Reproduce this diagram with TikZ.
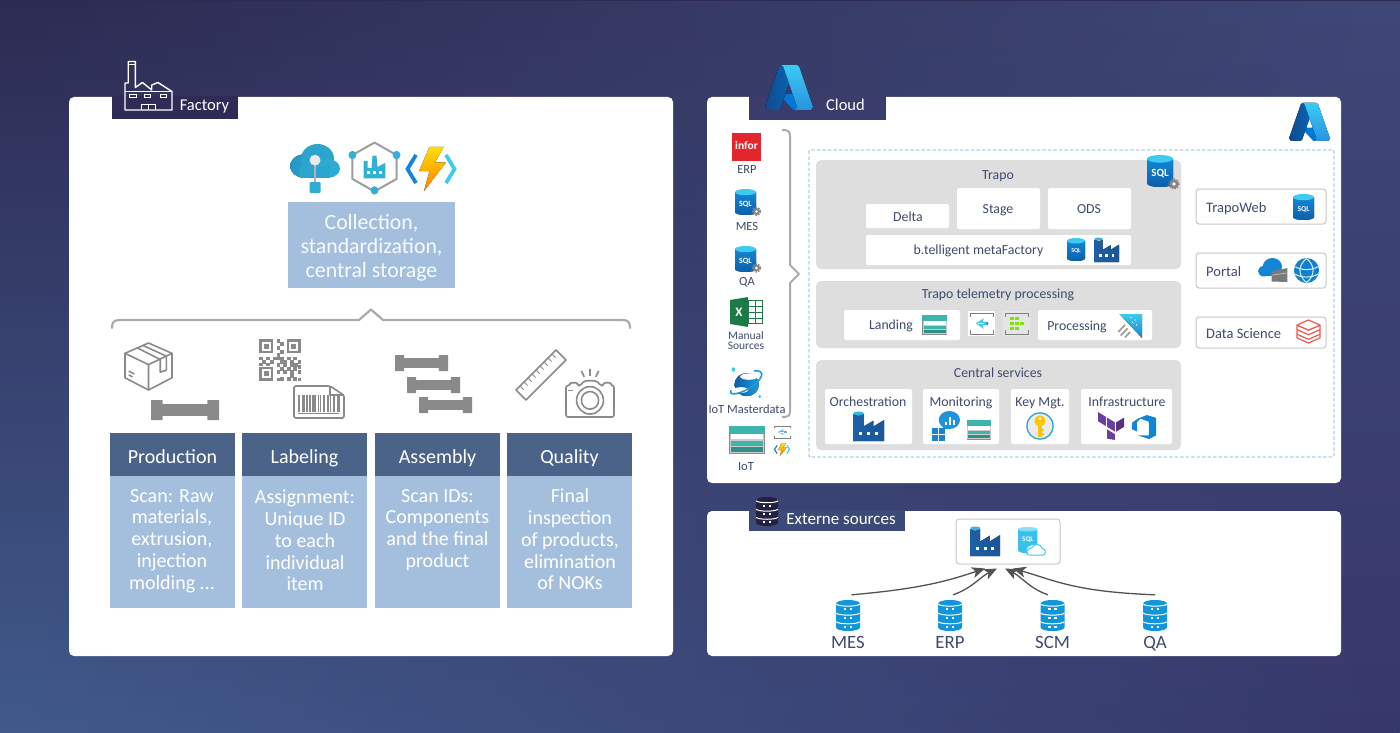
\documentclass[tikz,border=0pt]{standalone}
\usepackage{fontspec}
\setmainfont{Carlito}
\usetikzlibrary{fadings,arrows.meta}
\definecolor{bgA}{HTML}{2D2B53}
\definecolor{bgB}{HTML}{415B8C}
\definecolor{bgC}{HTML}{3F4877}
\definecolor{bgD}{HTML}{37386A}
\definecolor{tabA}{HTML}{2E2C57}
\definecolor{tabB}{HTML}{3A3D6C}
\definecolor{tabC}{HTML}{3C4A78}
\definecolor{lblue}{HTML}{A3BFDD}
\definecolor{hblue}{HTML}{4B6289}
\definecolor{ink}{HTML}{3E4A6E}
\definecolor{panel}{HTML}{DEDEDE}
\definecolor{gico}{HTML}{8A8A8A}
\definecolor{brk}{HTML}{ABABAB}
\definecolor{dashc}{HTML}{6FA8CC}
\definecolor{sqlA}{HTML}{1385D6}
\definecolor{sqlB}{HTML}{0B5EA8}
\definecolor{sqlC}{HTML}{3ECBF0}
\definecolor{adf}{HTML}{1D5FA8}
\definecolor{dbc}{HTML}{1296DB}
\definecolor{teal}{HTML}{3DB5AC}
\definecolor{tealD}{HTML}{2F8F86}
\definecolor{iot}{HTML}{2BA5CE}
\definecolor{redi}{HTML}{E1272D}
\definecolor{xl}{HTML}{1B7A45}
\definecolor{azA}{HTML}{114A8B}
\definecolor{azB}{HTML}{0669BC}
\definecolor{azC}{HTML}{0078D4}
\definecolor{azD}{HTML}{3CCBF4}
\definecolor{azE}{HTML}{2892DF}
\tikzset{
  ibox/.style n args={4}{shift={(#1,#2)},x=#3pt,y=-#4pt},
  card/.style={fill=white,rounded corners=5pt,draw=none},
  wbox/.style={fill=white,rounded corners=2pt},
  gpanel/.style={fill=panel,rounded corners=5pt},
  rbox/.style={fill=white,draw=black!22,line width=1pt,rounded corners=3pt},
  lab/.style={text=ink,font=\fontsize{13.8}{15}\selectfont,inner sep=0pt,text height=9pt,text depth=3pt,yshift=-1.3pt},
  sm/.style={text=ink,font=\fontsize{12.5}{13}\selectfont,inner sep=0pt},
  hd/.style={text=white,font=\fontsize{20}{22}\selectfont,inner sep=0pt,anchor=base},
  bd/.style={text=white,font=\fontsize{20}{21.8}\selectfont,align=center,inner sep=0pt},
  gl/.style={draw=gico,line width=1.6pt,line join=round,fill=none},
  bline/.style={draw=brk,line width=2.2pt,line join=round,line cap=round},
  feed/.style={draw=black!68,line width=1.3pt,-{Stealth[length=13pt,width=11pt,inset=3.5pt]}}
}
\newcommand\icAzure[4]{\begin{scope}[ibox={#1}{#2}{#3}{#4}]
 \fill[azC] (.763,.648)--(.294,.648)--(.58,.985)--(.61,1)--(.88,1)--cycle;
 \fill[left color=azA,right color=azB] (.333,0)--(.63,0)--(.32,.965)--(.28,1)--(.05,1)--(0,.93)--(.29,.03)--cycle;
 \fill[top color=azD,bottom color=azE] (.337,0)--(.667,0)--(.71,.035)--(1,.934)--(.955,1)--(.62,1)--(.668,.93)--(.38,.035)--cycle;
\end{scope}}
\newcommand\icSql[5]{\begin{scope}[ibox={#1}{#2}{#3}{#4}]
 \fill[top color=sqlA,bottom color=sqlB] (0,.12)--(0,.88) .. controls (0,1.04) and (1,1.04) .. (1,.88)--(1,.12)--cycle;
 \fill[sqlC] (.5,.12) ellipse [x radius=.5,y radius=.12];
 \node[inner sep=0pt,text=white,font=\bfseries\fontsize{#5}{#5}\selectfont] (sql#1x#2) at (.5,.58) {SQL};
\end{scope}}
\newcommand\icGear[3]{\fill[black!48] (#1,#2) circle (#3);
 \draw[black!48,line width=1.5pt,dash pattern=on 1.4pt off 1.4pt] (#1,#2) circle (#3+.4);
 \fill[white] (#1,#2) circle (#3*.4);}
\newcommand\icAdf[4]{\begin{scope}[ibox={#1}{#2}{#3}{#4}]
 \fill[sqlC!70!sqlA] (.02,.1)--(.02,.02) .. controls (.1,-.03) and (.26,-.03) .. (.34,.02)--(.34,.1)--cycle;
 \fill[left color=adf,right color=adf!90!black] (0,1)--(0,.08) .. controls (.1,.14) and (.26,.14) .. (.34,.08)--(.34,.5)--(.66,.3)--(.66,.5)--(1,.28)--(1,1)--cycle;
 \foreach \px in {.25,.5,.75}{\fill[white] (\px-.05,.68) rectangle (\px+.05,.8);}
\end{scope}}
\newcommand\icStore[4]{\begin{scope}[ibox={#1}{#2}{#3}{#4}]
 \fill[black!45] (0,0) rectangle (1,1);
 \fill[black!20] (.02,.3) rectangle (.98,.96);
 \fill[teal] (0,0) rectangle (1,.28);
 \fill[white] (.06,.3) rectangle (.94,.48);
 \fill[teal] (.06,.54) rectangle (.94,.7);
 \fill[tealD] (.06,.76) rectangle (.94,.92);
\end{scope}}
\newcommand\icEvent[4]{\begin{scope}[ibox={#1}{#2}{#3}{#4}]
 \draw[black!50,line width=1pt] (0,.2)--(0,0)--(1,0)--(1,.2) (0,.8)--(0,1)--(1,1)--(1,.8);
 \fill[sqlC] (.25,.5)--(.6,.25)--(.55,.42)--(.78,.42)--(.78,.58)--(.55,.58)--(.6,.75)--cycle;
 \fill[white] (.35,.47) rectangle (.6,.53);
 \fill[violet!70] (.75,.5) circle (.06);
\end{scope}}
\newcommand\icStream[4]{\begin{scope}[ibox={#1}{#2}{#3}{#4}]
 \draw[black!50,line width=1pt] (0,.2)--(0,0)--(1,0)--(1,.2) (0,.8)--(0,1)--(1,1)--(1,.8);
 \foreach \px/\py in {.3/.28,.3/.5,.3/.72,.52/.28,.52/.5,.52/.72,.74/.5}{\fill[green!45!yellow!90!black] (\px-.08,\py-.07) rectangle (\px+.08,\py+.07);}
\end{scope}}
\newcommand\icFunc[4]{\begin{scope}[ibox={#1}{#2}{#3}{#4}]
 \draw[sqlA,line width=#3*.075pt,line join=miter] (.2,.18)--(.03,.5)--(.2,.82);
 \draw[sqlC,line width=#3*.075pt,line join=miter] (.8,.18)--(.97,.5)--(.8,.82);
 \fill[top color=yellow!75!orange,bottom color=orange] (.47,0)--(.75,0)--(.58,.35)--(.8,.35)--(.36,1)--(.47,.55)--(.26,.55)--cycle;
\end{scope}}
\newcommand\pipeh[4]{\begin{scope}[ibox={#1}{#2}{#3}{#4}]
 \fill[gico] (.14,.18) rectangle (.86,.82);
 \fill[gico,rounded corners=.5pt] (0,0) rectangle (.17,1);
 \fill[gico,rounded corners=.5pt] (.83,0) rectangle (1,1);
\end{scope}}
\newcommand\icDb[5]{\begin{scope}[ibox={#1}{#2}{#3}{#4}]
 \fill[#5] (0,.12)--(0,.88) .. controls (0,1.04) and (1,1.04) .. (1,.88)--(1,.12) .. controls (1,-.04) and (0,-.04) .. (0,.12)--cycle;
 \foreach \py in {.13,.42,.7}{\draw[white,line width=1pt] (0,\py) .. controls (.1,\py+.09) and (.9,\py+.09) .. (1,\py);}
 \foreach \py in {.3,.58,.87}{\foreach \px in {.38,.62}{\fill[white] (\px-.05,\py-.035) rectangle (\px+.05,\py+.035);}}
\end{scope}}
\begin{document}
\begin{tikzpicture}[x=1pt,y=-1pt]
\useasboundingbox (0,0) rectangle (1400,733);
% background
\shade[top color=bgA,bottom color=bgB] (0,0) rectangle (1400,733);
\shade[top color=bgC,bottom color=bgD,path fading=west] (0,0) rectangle (1400,733);
% panels
\fill[card] (69,97) rectangle (673,656);
\fill[card] (707,97) rectangle (1341,483);
\fill[card] (707,511) rectangle (1341,656);
\fill[tabA] (112,96) rectangle (238,119);
\fill[tabB] (749,96) rectangle (886,120);
\fill[tabC] (749,510) rectangle (905,531);
% factory tab
\node[inner sep=0pt,text=white,font=\fontsize{16.5}{17}\selectfont] (tabF) at (204.5,107) {Factory};
\begin{scope}[ibox={125}{60}{47}{50}]
 \draw[white,line width=1.4pt,line join=round] (0,1)--(0,.46)--(.07,.46)--(.07,.03)--(.22,.03)--(.22,.55)--(.37,.45)--(.57,.6)--(.57,.5)--(.7,.45)--(1,.63)--(1,1)--cycle;
 \draw[white,line width=1pt] (.07,.1)--(.22,.1);
 \draw[white,line width=1pt] (0,.63)--(1,.63);
 \foreach \px in {.17,.48,.82}{\draw[white,line width=1pt] (\px-.07,.7) rectangle (\px+.07,.76);}
 \draw[white,line width=1pt] (.36,1)--(.36,.9)--(.64,.9)--(.64,1) (.5,.9)--(.5,1);
\end{scope}
% top icons factory
\begin{scope}[ibox={290}{144}{50}{49}]
 \fill[left color=iot!80!sqlB,right color=iot] (.3,.45) ellipse [x radius=.3,y radius=.24];
 \fill[iot] (.55,.3) ellipse [x radius=.33,y radius=.3];
 \fill[iot!85!sqlC] (.76,.5) ellipse [x radius=.24,y radius=.19];
 \fill[iot] (.2,.45) rectangle (.8,.69);
 \draw[black!30,line width=1.2pt] (.5,.35)--(.5,.8);
 \fill[black!8] (.5,.33) circle [x radius=.11,y radius=.11];
 \fill[iot!80!sqlC,rounded corners=1pt] (.39,.78) rectangle (.61,1);
\end{scope}
\begin{scope}[ibox={350}{141}{49}{52}]
 \draw[black!38,line width=2pt,line join=round] (.5,.03)--(.95,.27)--(.95,.73)--(.5,.97)--(.05,.73)--(.05,.27)--cycle;
 \fill[iot!70!sqlC] (.28,.72)--(.28,.38)--(.36,.38)--(.36,.52)--(.44,.52)--(.46,.28)--(.54,.28)--(.56,.5)--(.72,.42)--(.72,.72)--cycle;
 \foreach \px in {.38,.5,.62}{\fill[white] (\px-.03,.58) rectangle (\px+.03,.64);}
 \foreach \px/\py in {.05/.27,.95/.27,.5/.95}{\fill[iot!70!sqlC] (\px,\py) circle [x radius=.08,y radius=.08];}
\end{scope}
\icFunc{406}{147}{50}{44}
\node[fill=lblue,minimum width=167pt,minimum height=86pt,inner sep=0pt] (collect) at (371.5,245) {};
\node[text=white!93!lblue,align=center,inner sep=0pt,font=\fontsize{21.8}{24}\selectfont] (collectt) at (371.5,248) {Collection,\\standardization,\\central storage};
% big bracket
\draw[bline] (112,328) .. controls (112,322) and (114,320) .. (120,320) -- (359,320) -- (371,309.5) -- (383,320) -- (622,320) .. controls (628,320) and (630,322) .. (630,328);
% gray icons
\begin{scope}[ibox={125}{343}{47}{47}]
 \draw[gl] (.5,0)--(1,.22)--(1,.74)--(.5,1)--(0,.74)--(0,.22)--cycle;
 \draw[gl] (0,.22)--(.5,.46)--(1,.22) (.5,.46)--(.5,1);
 \draw[gl] (.25,.1)--(.75,.35)--(.75,.62)--(.88,.58)--(.88,.28)--(.38,.05);
 \draw[gl] (.08,.6)--(.2,.66) (.08,.68)--(.16,.72);
\end{scope}
\pipeh{151}{400}{68}{20}
\begin{scope}[ibox={259}{339}{42}{42}]
 \foreach \px/\py in {0/0,.66/0,0/.66}{
  \fill[gico] (\px,\py) rectangle (\px+.34,\py+.34);
  \fill[white] (\px+.06,\py+.06) rectangle (\px+.28,\py+.28);
  \fill[gico] (\px+.11,\py+.11) rectangle (\px+.23,\py+.23);}
 \foreach \px/\py in {.42/0,.5/.08,.42/.16,.5/.26,.42/.34,.42/.42,.5/.42,.58/.5,.66/.42,.74/.5,.82/.42,.92/.5,0/.42,.08/.5,.16/.42,.26/.5,.34/.42,.42/.58,.5/.66,.42/.74,.58/.74,.5/.9,.42/.92,.66/.66,.74/.74,.82/.66,.92/.74,.66/.9,.82/.9,.92/.92,.74/.58,.84/.58,.58/.58,.74/.84,.92/.62,.5/.5,.0/.56,.16/.56}{
  \fill[gico] (\px,\py) rectangle (\px+.09,\py+.09);}
\end{scope}
\begin{scope}[ibox={294}{385}{50}{34}]
 \draw[gl,rounded corners=1.5pt] (0,.03)--(.72,.03)--(1,.3)--(1,.97)--(0,.97)--cycle;
 \draw[gl] (.72,.03)--(.72,.3)--(1,.3);
 \foreach \px/\wd in {.08/.04,.15/.06,.24/.03,.3/.03,.36/.07,.47/.03,.52/.02,.57/.05,.66/.03,.72/.02,.78/.04,.86/.05}{\fill[gico] (\px,.3) rectangle (\px+\wd,.78);}
 \draw[gico,line width=1pt] (.08,.84)--(.9,.84);
\end{scope}
\pipeh{395}{355}{53}{16}
\pipeh{407}{377}{53}{16}
\pipeh{419}{397}{53}{16}
\begin{scope}[ibox={516}{350}{50}{50}]
 \draw[gl] (0,.8)--(.8,0)--(1,.2)--(.2,1)--cycle;
 \foreach \t in {.1,.2,.3,.4,.5,.6,.7,.8,.9}{\draw[gico,line width=1pt] (\t*.8,.8-\t*.8)--(\t*.8+.07,.87-\t*.8);}
\end{scope}
\begin{scope}[ibox={566}{368}{48}{49}]
 \draw[gl,rounded corners=2pt] (0,.36)--(.08,.36)--(.08,.3)--(.24,.3)--(.24,.36)--(.3,.36)--(.38,.26)--(.64,.26)--(.72,.36)--(.78,.36)--(.78,.3)--(.94,.3)--(.94,.36)--(1,.36)--(1,1)--(0,1)--cycle;
 \draw[gl] (.5,.66) circle [x radius=.28,y radius=.28];
 \draw[gl] (.5,.66) circle [x radius=.18,y radius=.18];
 \draw[gl] (.5,.02)--(.5,.16) (.32,.06)--(.38,.18) (.68,.06)--(.62,.18);
 \draw[gl] (.04,.46)--(.14,.46);
\end{scope}
% columns
\foreach \nm/\lft/\ttl in {a/110/Production,b/242/Labeling,c/375/Assembly,d/507/Quality}{
 \fill[hblue] (\lft,433) rectangle (\lft+125,476);
 \fill[lblue] (\lft,476) rectangle (\lft+125,608);
 \node[hd] (h\nm) at (\lft+62.5,463) {\ttl};
}
\node[bd] (ba) at (172,541) {Scan: Raw\\materials,\\extrusion,\\injection\\molding ...};
\node[bd] (bb) at (305,540.5) {Assignment:\\Unique ID\\to each\\individual\\item};
\node[bd] (bc) at (437.5,530) {Scan IDs:\\Components\\and the final\\product};
\node[bd] (bd1) at (570,539.5) {Final\\inspection\\of products,\\elimination\\of NOKs};
% cloud tab
\icAzure{765}{65}{48}{45}
\node[inner sep=0pt,text=white,font=\fontsize{16.5}{18}\selectfont] (tabC1) at (845.5,105) {Cloud};
\icAzure{1289}{103}{41}{38}
% left sources
\fill[redi] (732,133) rectangle (761,161);
\node[inner sep=0pt,text=white,font=\bfseries\fontsize{11.5}{12}\selectfont] (infor) at (746.5,146) {infor};
\node[sm] (erp) at (747,169.5) {ERP};
\icSql{735}{189}{21}{26}{8}\icGear{756.5}{211.5}{3.5}
\node[sm] (mes) at (747,226.5) {MES};
\icSql{735}{246}{21}{26}{8}\icGear{756.5}{268}{3.5}
\node[sm] (qa) at (747,282.5) {QA};
\begin{scope}[ibox={730}{297}{33}{30}]
 \fill[white] (.5,.1) rectangle (1,.9);
 \draw[xl,line width=.8pt] (.55,.12) rectangle (.98,.88) (.55,.3)--(.98,.3) (.55,.5)--(.98,.5) (.55,.7)--(.98,.7) (.77,.12)--(.77,.88);
 \fill[xl] (0,.1)--(.55,0)--(.55,1)--(0,.9)--cycle;
 \node[inner sep=0pt,text=white,font=\bfseries\fontsize{13}{13}\selectfont] (xlx) at (.27,.5) {X};
\end{scope}
\node[text=ink,inner sep=0pt,align=center,font=\fontsize{11.5}{9.5}\selectfont] (manual) at (746,340.5) {Manual\\Sources};
\begin{scope}[ibox={728}{367}{36}{32}]
 \fill[left color=sqlB,right color=sqlA!70!sqlC] (.52,.55) ellipse [x radius=.34,y radius=.36];
 \fill[white] (.58,.3) ellipse [x radius=.24,y radius=.1];
 \fill[white] (.36,.72) ellipse [x radius=.2,y radius=.09];
 \draw[sqlA!70!sqlC,line width=1.6pt] (.08,.72) .. controls (-.04,1.02) and (.7,.72) .. (.9,.35) .. controls (1.02,.12) and (.82,.1) .. (.72,.12);
 \fill[sqlC] (.15,.08) circle [x radius=.05,y radius=.07];
 \fill[sqlC] (.88,.92) circle [x radius=.04,y radius=.06];
\end{scope}
\node[sm] (masterd) at (747,409.5) {IoT Masterdata};
\icStore{729}{426}{36}{28}
\icEvent{774}{426}{16}{12}
\icFunc{774}{443}{16}{13}
\node[sm] (iotl) at (746,467) {IoT};
\draw[draw=brk,line width=2pt,line join=round] (782,130) .. controls (788,130) and (790,131) .. (790,136) -- (790,265) -- (799,274) -- (790,283) -- (790,411) .. controls (790,416) and (788,417) .. (782,417);
% dashed frame
\draw[draw=dashc,line width=.9pt,dash pattern=on 3.5pt off 2pt,rounded corners=1pt] (809,150) rectangle (1334,457);
% gray panels
\fill[gpanel] (816,160) rectangle (1181,269);
\fill[gpanel] (816,281) rectangle (1181,348);
\fill[gpanel] (816,360) rectangle (1181,450);
\node[lab] (ttrapo) at (998,175) {Trapo};
\node[lab] (ttele) at (998,294) {Trapo telemetry processing};
\node[lab] (tcent) at (998,373) {Central services};
\fill[wbox] (866,204) rectangle (949,228);
\fill[wbox] (957,188) rectangle (1040,229);
\fill[wbox] (1048,188) rectangle (1131,229);
\fill[wbox] (866,235) rectangle (1131,265);
\node[lab] (tdelta) at (908,217) {Delta};
\node[lab] (tstage) at (998,209.5) {Stage};
\node[lab] (tods) at (1089,209.5) {ODS};
\node[lab] (tmeta) at (978.5,250.5) {b.telligent metaFactory};
\icSql{1067}{238}{18}{23}{6}
\icAdf{1094}{238}{25}{24}
\icSql{1147}{155}{26}{32}{11}\icGear{1174}{184}{4.5}
% telemetry
\fill[wbox] (844,310) rectangle (960,340);
\node[lab] (tland) at (891,325.5) {Landing};
\icStore{922}{315}{25}{20}
\fill[white] (968,311) rectangle (995,336);
\icEvent{970}{313}{23}{21}
\fill[black!10] (1003,311) rectangle (1030,336);
\icStream{1005}{313}{23}{21}
\fill[wbox] (1038,310) rectangle (1152,340);
\node[lab] (tproc) at (1077,326) {Processing};
\begin{scope}[ibox={1117}{314}{25}{24}]
 \fill[top color=sqlC,bottom color=sqlA] (.1,0)--(1,0)--(1,1)--cycle;
 \foreach \px/\py in {.55/.15,.72/.25,.62/.35,.78/.45}{\fill[white] (\px,\py) circle [x radius=.03,y radius=.03];}
 \draw[black!40,line width=1.6pt] (.05,.75)--(.32,.45) (.15,.9)--(.42,.6) (.32,.98)--(.52,.75);
\end{scope}
% central
\fill[wbox] (825,389) rectangle (912,444);
\fill[wbox] (923,389) rectangle (999,444);
\fill[wbox] (1011,389) rectangle (1069,444);
\fill[wbox] (1081,389) rectangle (1172,444);
\node[lab] (torch) at (868,402) {Orchestration};
\node[lab] (tmon) at (961,402) {Monitoring};
\node[lab] (tkey) at (1040,402) {Key Mgt.};
\node[lab] (tinf) at (1127,402) {Infrastructure};
\icAdf{853}{412}{31}{29}
\begin{scope}[ibox={932}{411}{28}{30}]
 \fill[sqlA!80!sqlC] (.62,.3) circle [x radius=.38,y radius=.3];
 \fill[sqlA!80!sqlC] (.38,.3) rectangle (.62,.6);
 \foreach \px/\hh in {.5/.35,.64/.2,.78/.3}{\fill[white] (\px-.03,.45) rectangle (\px+.03,\hh);}
 \foreach \px/\py in {0/.55,.24/.55,0/.8,.24/.8}{\fill[sqlA] (\px,\py) rectangle (\px+.22,\py+.2);}
\end{scope}
\icStore{967}{420}{24}{20}
\begin{scope}[ibox={1026}{412}{28}{28}]
 \fill[black!8] (.5,.5) circle [x radius=.5,y radius=.5];
 \draw[sqlA!60!sqlC,line width=1.2pt] (.5,.5) circle [x radius=.47,y radius=.47];
 \fill[orange!45!yellow] (.5,.32) circle [x radius=.2,y radius=.2];
 \fill[orange!45!yellow] (.43,.35) rectangle (.57,.88);
 \fill[orange!45!yellow] (.57,.6) rectangle (.66,.68);
 \fill[orange!45!yellow] (.57,.74) rectangle (.66,.82);
 \fill[white] (.5,.24) circle [x radius=.05,y radius=.05];
\end{scope}
\begin{scope}[ibox={1098}{412}{26}{28}]
 \definecolor{tf}{HTML}{6B3FA0}
 \fill[tf] (0,0)--(.3,.17)--(.3,.5)--(0,.33)--cycle;
 \fill[tf] (.35,.2)--(.65,.37)--(.65,.7)--(.35,.53)--cycle;
 \fill[tf] (.35,.62)--(.65,.79)--(.65,1)--(.35,.95)--cycle;
 \fill[tf!80!black] (.7,.37)--(1,.2)--(1,.53)--(.7,.7)--cycle;
\end{scope}
\begin{scope}[ibox={1132}{415}{24}{24}]
 \fill[sqlA] (1,.12)--(1,.85)--(.7,1)--(.25,.85)--(.7,.85)--(.7,.28)--(.35,.15)--(.2,.3)--(.2,.68)--(0,.6)--(0,.32)--(.25,.15)--(.62,0)--cycle;
\end{scope}
% right boxes
\fill[rbox] (1196,189) rectangle (1326,224);
\fill[rbox] (1196,253) rectangle (1326,288);
\fill[rbox] (1196,317) rectangle (1326,348);
\node[lab,anchor=west,font=\fontsize{14.5}{16}\selectfont] (ttw) at (1206,208) {TrapoWeb};
\node[lab,anchor=west,font=\fontsize{14.5}{16}\selectfont] (tpo) at (1206,272) {Portal};
\node[lab,anchor=west,font=\fontsize{14.5}{16}\selectfont] (tds) at (1206,334) {Data Science};
\icSql{1293}{194}{21}{26}{7.5}
\begin{scope}[ibox={1258}{258}{30}{24}]
 \fill[sqlA] (.2,.55) circle [x radius=.2,y radius=.22];
 \fill[sqlA] (.48,.36) circle [x radius=.32,y radius=.36];
 \fill[sqlA] (.2,.5) rectangle (.7,.75);
 \fill[black!52] (.45,.55)--(.98,.42)--(.98,1)--(.45,.98)--cycle;
 \draw[black!25,line width=.7pt] (.45,.72)--(.98,.62);
\end{scope}
\begin{scope}[ibox={1294}{258}{25}{25}]
 \fill[sqlA!85!sqlB] (.5,.5) circle [x radius=.5,y radius=.5];
 \draw[white!80!sqlC,line width=1pt] (.5,.02) .. controls (.15,.3) and (.15,.7) .. (.5,.98) (.5,.02) .. controls (.85,.3) and (.85,.7) .. (.5,.98) (.05,.35) .. controls (.3,.5) and (.7,.5) .. (.95,.35) (.05,.65) .. controls (.3,.8) and (.7,.8) .. (.95,.65);
\end{scope}
\begin{scope}[ibox={1297}{320}{23}{23}]
 \definecolor{dbr}{HTML}{EC5B50}
 \foreach \py in {.62,.42,.22}{\draw[dbr,line width=1.2pt,line join=round] (0,\py)--(.5,\py+.22)--(1,\py);}
 \draw[dbr,line width=1.2pt,line join=round,fill=white] (0,.22)--(.5,0)--(1,.22)--(.5,.44)--cycle;
 \draw[dbr,line width=1.2pt] (0,.22)--(0,.78)--(.5,1)--(1,.78)--(1,.22);
\end{scope}
% externe
\icDb{756}{497}{22}{29}{tabA!75!black}
\node[inner sep=0pt,text=white,font=\fontsize{17}{18}\selectfont] (tabE) at (841,519.5) {Externe sources};
\node[rbox,minimum width=104pt,minimum height=45pt,inner sep=0pt] (target) at (1008,541.5) {};
\icAdf{970}{527}{30}{29}
\begin{scope}[ibox={1018}{527}{27}{28}]
 \fill[sqlC!85!sqlA] (0,.08)--(0,.82) .. controls (0,.98) and (.72,.98) .. (.72,.82)--(.72,.08)--cycle;
 \fill[sqlC!60!white] (.36,.08) ellipse [x radius=.36,y radius=.08];
 \node[inner sep=0pt,text=white,font=\bfseries\fontsize{7}{7}\selectfont] (sqlcl) at (.36,.45) {SQL};
 \fill[white] (.66,.82) ellipse [x radius=.34,y radius=.19];
 \draw[sqlC,line width=1pt] (.38,1)--(.92,1) .. controls (1.05,1) and (1.05,.78) .. (.9,.76) .. controls (.85,.58) and (.58,.58) .. (.52,.74) .. controls (.3,.74) and (.28,1) .. (.38,1);
\end{scope}
\foreach \nm/\cx/\ttl in {mesd/848/MES,erpd/950/ERP,scmd/1052.5/SCM,qad/1155/QA}{
 \icDb{\cx-12}{600}{24}{31}{dbc}
 \node[inner sep=0pt,minimum width=24pt,minimum height=41pt] (\nm) at (\cx,615.5) {};
 \node[inner sep=0pt,text=ink,anchor=base,font=\fontsize{18.8}{20}\selectfont] (l\nm) at (\cx,648) {\ttl};
}
\draw[feed] ([xshift=3.5pt]mesd.north) .. controls +(70,-6) and +(-36,12) .. ([xshift=-23pt,yshift=-4pt]target.south);
\draw[feed] ([xshift=3pt]erpd.north) .. controls +(18,-6) and +(-16,8) .. ([xshift=-11pt,yshift=-4pt]target.south);
\draw[feed] ([xshift=-4.5pt]scmd.north) .. controls +(-18,-6) and +(16,8) .. ([xshift=-3pt,yshift=-4pt]target.south);
\draw[feed] (qad.north) .. controls +(-80,-3) and +(42,12) .. ([xshift=5pt,yshift=-4pt]target.south);
\end{tikzpicture}
\end{document}
